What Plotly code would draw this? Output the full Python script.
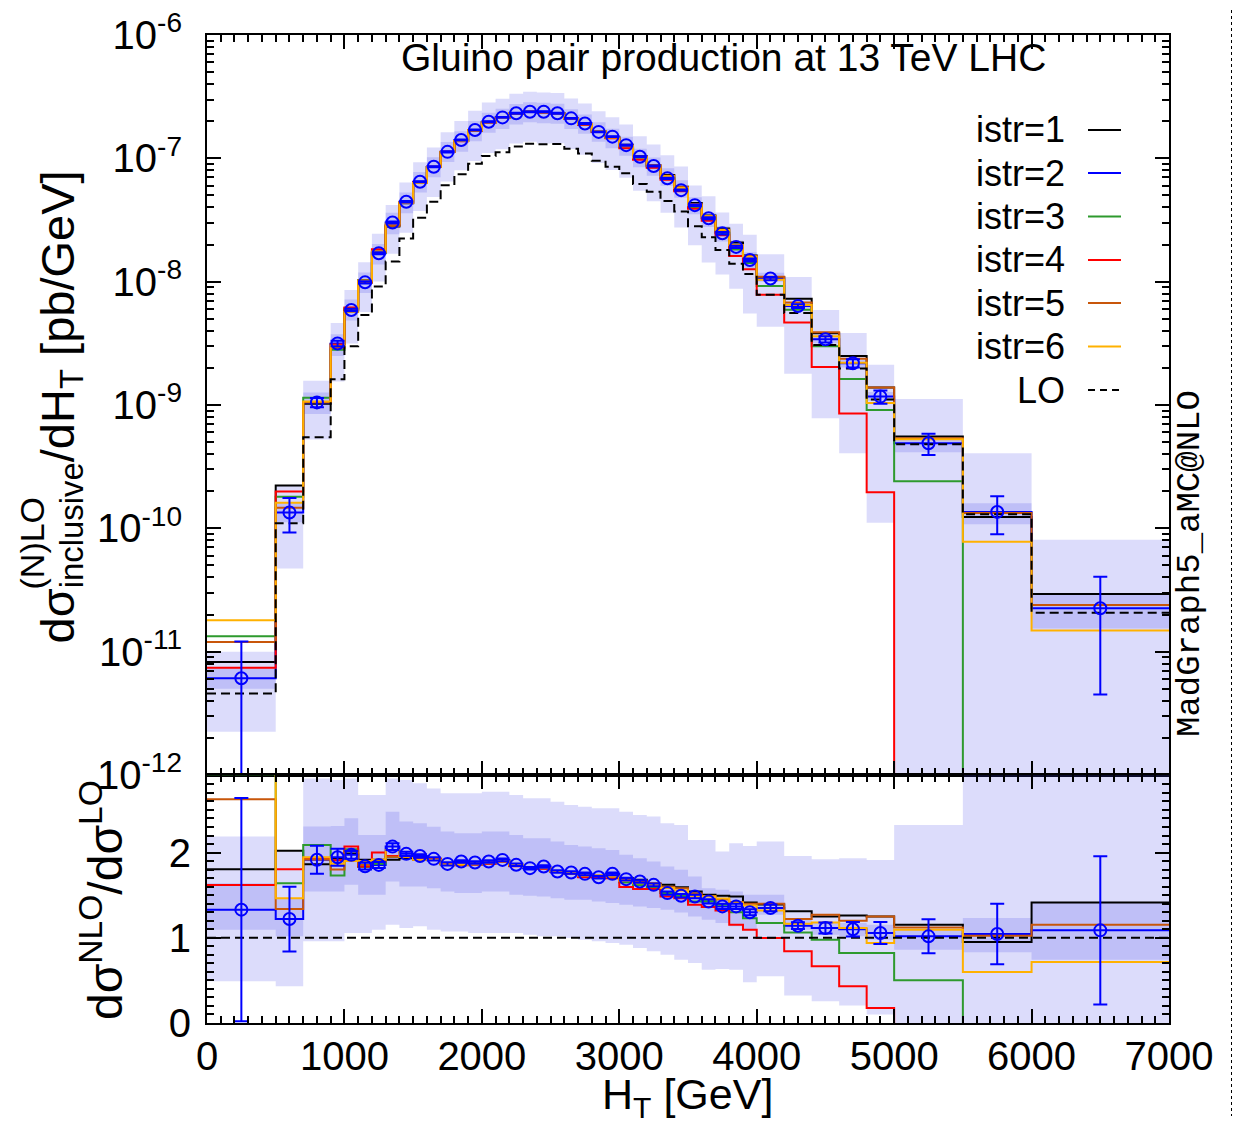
import plotly.graph_objects as go

# ---------------- data ----------------
bin_edges = [0, 500, 700, 900, 1000, 1100, 1200, 1300, 1400, 1500, 1600, 1700,
             1800, 1900, 2000, 2100, 2200, 2300, 2400, 2500, 2600, 2700, 2800,
             2900, 3000, 3100, 3200, 3300, 3400, 3500, 3600, 3700, 3800, 3900,
             4000, 4200, 4400, 4600, 4800, 5000, 5500, 6000, 7000]

# LO differential cross section [pb/GeV]
lo_xsec = [4.57e-12, 1.10e-10, 5.48e-10, 1.62e-9, 2.99e-9, 5.37e-9, 9.16e-9,
           1.46e-8, 2.24e-8, 3.30e-8, 4.44e-8, 6.05e-8, 7.44e-8, 9.03e-8,
           1.045e-7, 1.123e-7, 1.25e-7, 1.315e-7, 1.30e-7, 1.305e-7, 1.195e-7,
           1.097e-7, 9.58e-8, 8.57e-8, 7.58e-8, 6.20e-8, 5.35e-8, 4.52e-8,
           3.70e-8, 2.81e-8, 2.29e-8, 1.805e-8, 1.40e-8, 1.154e-8, 7.85e-9,
           5.56e-9, 3.06e-9, 1.98e-9, 1.108e-9, 4.81e-10, 1.30e-10, 2.07e-11]

# NLO / LO ratios for each istr setting
ratio_istr1 = [1.805, 2.02, 1.864, 1.93, 1.99, 1.915, 1.915, 1.915, 1.934, 1.92,
               1.92, 1.864, 1.856, 1.864, 1.875, 1.905, 1.844, 1.83, 1.817, 1.778,
               1.758, 1.727, 1.727, 1.719, 1.70, 1.68, 1.633, 1.621, 1.594, 1.543,
               1.505, 1.493, 1.485, 1.415, 1.39, 1.31, 1.25, 1.26, 1.25, 1.153,
               0.95, 1.415]
ratio_istr2 = [1.33, 1.22, 1.915, 1.945, 1.973, 1.84, 1.855, 2.07, 1.985, 1.96,
               1.926, 1.867, 1.895, 1.883, 1.895, 1.914, 1.856, 1.817, 1.836, 1.778,
               1.766, 1.75, 1.711, 1.75, 1.688, 1.66, 1.621, 1.524, 1.493, 1.485,
               1.426, 1.368, 1.368, 1.30, 1.35, 1.142, 1.114, 1.10, 1.056, 1.017,
               1.045, 1.087]
ratio_istr3 = [2.92, 1.64, 2.09, 1.73, 2.04, 1.83, 1.87, 1.95, 1.95, 1.915,
               1.92, 1.864, 1.856, 1.864, 1.875, 1.895, 1.844, 1.83, 1.817, 1.778,
               1.758, 1.727, 1.725, 1.715, 1.65, 1.62, 1.583, 1.524, 1.493, 1.426,
               1.43, 1.387, 1.30, 1.23, 1.173, 1.063, 0.977, 0.822, 0.822, 0.501,
               0.0, 0.0]
ratio_istr4 = [1.62, 1.805, 1.93, 1.91, 2.07, 1.835, 2.00, 1.96, 1.95, 1.93,
               1.93, 1.87, 1.85, 1.86, 1.87, 1.89, 1.84, 1.83, 1.81, 1.775,
               1.755, 1.71, 1.71, 1.70, 1.595, 1.571, 1.571, 1.485, 1.465, 1.387,
               1.36, 1.32, 1.153, 1.094, 0.997, 0.841, 0.665, 0.431, 0.177, 0.0,
               0.0, 0.0]
ratio_istr5 = [2.625, 1.337, 1.92, 1.80, 2.02, 1.855, 1.895, 1.95, 1.95, 1.915,
               1.92, 1.864, 1.856, 1.864, 1.875, 1.895, 1.844, 1.83, 1.817, 1.778,
               1.758, 1.727, 1.727, 1.719, 1.68, 1.66, 1.64, 1.60, 1.58, 1.52,
               1.49, 1.45, 1.42, 1.40, 1.40, 1.22, 1.27, 1.20, 1.25, 1.12,
               1.025, 1.153]
ratio_istr6 = [3.93, 1.465, 1.945, 1.87, 1.90, 1.90, 1.92, 2.03, 1.95, 1.915,
               1.915, 1.86, 1.86, 1.87, 1.88, 1.895, 1.856, 1.83, 1.82, 1.78,
               1.76, 1.73, 1.73, 1.72, 1.67, 1.64, 1.62, 1.583, 1.555, 1.485,
               1.485, 1.46, 1.41, 1.38, 1.32, 1.165, 1.18, 1.114, 0.938, 1.095,
               0.599, 0.716]

# statistical uncertainty of istr=2 (ratio units)
stat_err_istr2 = [1.31, 0.38, 0.165, 0.10, 0.045, 0.04, 0.035, 0.04, 0.025, 0.02,
                  0.02, 0.02, 0.015, 0.015, 0.015, 0.015, 0.015, 0.015, 0.015, 0.015,
                  0.015, 0.015, 0.015, 0.015, 0.015, 0.015, 0.015, 0.018, 0.02, 0.02,
                  0.025, 0.03, 0.03, 0.035, 0.04, 0.04, 0.065, 0.085, 0.13, 0.20,
                  0.355, 0.87]

# uncertainty bands (ratio to LO): wide band and narrow band
wide_band_lo = [0.49, 0.43, 0.958, 0.958, 1.056, 1.056, 1.095, 1.153, 1.114, 1.134,
                1.095, 1.075, 1.075, 1.056, 1.056, 1.056, 1.056, 1.036, 1.017, 1.017,
                0.997, 0.977, 0.958, 0.938, 0.919, 0.880, 0.841, 0.802, 0.743, 0.704,
                0.626, 0.634, 0.626, 0.478, 0.548, 0.322, 0.255, 0.205, 0.10, 0.0,
                0.0, 0.0]
wide_band_hi = [2.187, 2.031, 2.87, 2.851, 2.87, 2.675, 2.675, 2.87, 2.851, 2.812,
                2.753, 2.695, 2.695, 2.695, 2.714, 2.714, 2.675, 2.636, 2.636, 2.597,
                2.558, 2.539, 2.519, 2.519, 2.48, 2.441, 2.422, 2.343, 2.324, 2.148,
                2.148, 2.012, 2.109, 2.078, 2.129, 1.961, 1.922, 1.934, 1.914, 2.324,
                3.12, 3.9]
narrow_band_lo = [1.095, 1.017, 1.543, 1.543, 1.621, 1.504, 1.504, 1.66, 1.602, 1.602,
                  1.582, 1.543, 1.524, 1.524, 1.543, 1.543, 1.504, 1.493, 1.485, 1.465,
                  1.446, 1.446, 1.426, 1.407, 1.387, 1.368, 1.348, 1.329, 1.297, 1.251,
                  1.212, 1.173, 1.134, 1.095, 1.27, 1.095, 1.036, 1.017, 0.977, 0.86,
                  0.829, 0.743]
narrow_band_hi = [1.641, 1.465, 2.305, 2.312, 2.402, 2.207, 2.207, 2.48, 2.363, 2.344,
                  2.304, 2.246, 2.226, 2.226, 2.246, 2.246, 2.207, 2.168, 2.168, 2.129,
                  2.09, 2.07, 2.051, 2.031, 1.973, 1.934, 1.895, 1.836, 1.797, 1.719,
                  1.582, 1.563, 1.543, 1.504, 1.504, 1.231, 1.173, 1.173, 1.153, 1.095,
                  1.231, 1.407]

series_names = ["istr=1", "istr=2", "istr=3", "istr=4", "istr=5", "istr=6"]
series_ratios = [ratio_istr1, ratio_istr2, ratio_istr3, ratio_istr4, ratio_istr5, ratio_istr6]
series_colors = ["#000000", "#0000FF", "#2E9A2E", "#FF0000", "#C8560A", "#FFB100"]

ylog_tickvals = [1e-12, 1e-11, 1e-10, 1e-9, 1e-8, 1e-7, 1e-6]
ylog_ticktext = ["10<sup>-12</sup>", "10<sup>-11</sup>", "10<sup>-10</sup>", "10<sup>-9</sup>",
                 "10<sup>-8</sup>", "10<sup>-7</sup>", "10<sup>-6</sup>"]

# ---------------- helpers ----------------
FLOOR_ABS = 1e-14     # zero values drawn below the log range
FLOOR_RATIO = -0.2    # zero values drawn below the ratio range
FONT = "Liberation Sans, Arial, sans-serif"
BAND = "rgba(60,60,235,0.18)"

def to_abs(ratio):
    return [r * l if r > 0 else FLOOR_ABS for r, l in zip(ratio, lo_xsec)]

def to_ratio(ratio):
    return [r if r > 0 else FLOOR_RATIO for r in ratio]

def step(values):
    return list(bin_edges), list(values) + [values[-1]]

def rects(lo, hi):
    xs, ys = [], []
    for i in range(len(lo)):
        x0, x1 = bin_edges[i], bin_edges[i + 1]
        xs += [x0, x1, x1, x0, x0, None]
        ys += [lo[i], lo[i], hi[i], hi[i], lo[i], None]
    return xs, ys

centers = [(bin_edges[i] + bin_edges[i + 1]) / 2 for i in range(len(lo_xsec))]

fig = go.Figure()

panels = [("x", "y", True), ("x2", "y2", False)]
for xa, ya, absolute in panels:
    conv = to_abs if absolute else to_ratio
    for blo, bhi in [(wide_band_lo, wide_band_hi), (narrow_band_lo, narrow_band_hi)]:
        bx, by = rects(conv(blo), conv(bhi))
        fig.add_trace(go.Scatter(x=bx, y=by, xaxis=xa, yaxis=ya, mode="lines",
                                 fill="toself", fillcolor=BAND, line=dict(width=0),
                                 hoverinfo="skip", showlegend=False))
    for name, rat, col in zip(series_names, series_ratios, series_colors):
        sx, sy = step(conv(rat))
        fig.add_trace(go.Scatter(x=sx, y=sy, xaxis=xa, yaxis=ya, mode="lines",
                                 line=dict(color=col, width=2, shape="hv"),
                                 name=name, showlegend=False))
    lo_vals = lo_xsec if absolute else [l / l for l in lo_xsec]
    sx, sy = step(lo_vals)
    fig.add_trace(go.Scatter(x=sx, y=sy, xaxis=xa, yaxis=ya, mode="lines",
                             line=dict(color="black", width=2, shape="hv", dash="9px,5px"),
                             name="LO", showlegend=False))
    pts = conv(ratio_istr2)
    errs = [e * l for e, l in zip(stat_err_istr2, lo_xsec)] if absolute else list(stat_err_istr2)
    fig.add_trace(go.Scatter(x=centers, y=pts, xaxis=xa, yaxis=ya, mode="markers",
                             marker=dict(symbol="circle-open", size=12, color="#0000FF",
                                         line=dict(width=2, color="#0000FF")),
                             error_y=dict(type="data", array=errs, visible=True,
                                          color="#0000FF", thickness=2, width=7),
                             showlegend=False))

TICK_FONT = dict(family=FONT, size=40, color="black")
axis_common = dict(showline=True, linecolor="black", linewidth=2, mirror="ticks",
                   ticks="inside", tickcolor="black", tickwidth=2, ticklen=14,
                   showgrid=False, zeroline=False, tickfont=TICK_FONT,
                   ticklabeloverflow="allow", automargin=False)

PANEL_SPLIT = 0.251
# the page body adds an 8 px offset; the figure is sized so that the
# plot area lands at x 207..1169, y 35..1023 in the 1240x1125 window
fig.update_layout(
    width=1232, height=1117,
    margin=dict(l=199, r=71, t=27, b=102, autoexpand=False),
    paper_bgcolor="white", plot_bgcolor="white",
    showlegend=False,
    xaxis=dict(axis_common, domain=[0, 1], anchor="y", range=[0, 7000], dtick=1000, tick0=0,
               showticklabels=False,
               minor=dict(dtick=100, tick0=0, ticks="inside", ticklen=7, tickwidth=1.5,
                          tickcolor="black", showgrid=False)),
    xaxis2=dict(axis_common, domain=[0, 1], anchor="y2", range=[0, 7000], dtick=1000, tick0=0,
                matches="x", ticklabelstandoff=-3,
                minor=dict(dtick=100, tick0=0, ticks="inside", ticklen=7, tickwidth=1.5,
                           tickcolor="black", showgrid=False)),
    yaxis=dict(axis_common, domain=[PANEL_SPLIT, 1], anchor="x", type="log",
               range=[-12.0003, -5.9997],
               tickvals=ylog_tickvals, ticktext=ylog_ticktext, ticklabelstandoff=15,
               minor=dict(tickvals=[k * 10.0 ** e for e in range(-12, -6) for k in range(2, 10)],
                          ticks="inside", ticklen=7, tickwidth=1.5, tickcolor="black",
                          showgrid=False)),
    yaxis2=dict(axis_common, domain=[0, PANEL_SPLIT], anchor="x2", range=[0, 2.91],
                dtick=1, tick0=0, ticklabelstandoff=6,
                minor=dict(dtick=0.1, tick0=0, ticks="inside", ticklen=7, tickwidth=1.5,
                           tickcolor="black", showgrid=False)),
)

# pixel (window) -> paper helpers (plot area: x 207..1169, y 35..1023)
def px(xp):
    return (xp - 207) / 962.0

def py(yp):
    return (1023 - yp) / 988.0

ann = []
ann.append(dict(text="Gluino pair production at 13 TeV LHC", x=px(723), y=py(57),
                xref="paper", yref="paper", xanchor="center", yanchor="middle",
                showarrow=False, font=dict(family=FONT, size=39, color="black")))

# legend (text right-aligned, sample line on the right)
leg_names = series_names + ["LO"]
leg_colors = series_colors + ["black"]
leg_rows = [130, 173, 216.5, 260, 303, 346.5, 390]
shapes = []
for name, col, yy in zip(leg_names, leg_colors, leg_rows):
    ann.append(dict(text=name, x=px(1067), y=py(yy), xref="paper", yref="paper",
                    xanchor="right", yanchor="middle", showarrow=False,
                    font=dict(family=FONT, size=36, color="black")))
    shapes.append(dict(type="line", xref="paper", yref="paper", x0=px(1088), x1=px(1121),
                       y0=py(yy), y1=py(yy),
                       line=dict(color=col, width=2, dash="7px,5px" if name == "LO" else "solid")))

ann.append(dict(text="MadGraph5_aMC@NLO", x=px(1190), y=py(564), xref="paper", yref="paper",
                xanchor="center", yanchor="middle", textangle=-90, showarrow=False,
                font=dict(family="Liberation Mono, DejaVu Sans Mono, monospace", size=34,
                          color="black")))

# y title of upper panel (superscript stacked above subscript)
ann.append(dict(text="dσ<sub>inclusive</sub>/dH<sub>T</sub> [pb/GeV]", x=px(60), y=py(646),
                xref="paper", yref="paper", xanchor="center", yanchor="bottom",
                textangle=-90, showarrow=False, font=dict(family=FONT, size=47, color="black")))
ann.append(dict(text="(N)LO", x=px(31), y=py(592), xref="paper", yref="paper",
                xanchor="center", yanchor="bottom", textangle=-90, showarrow=False,
                font=dict(family=FONT, size=34, color="black")))

ann.append(dict(text="dσ<sup>NLO</sup>/dσ<sup>LO</sup>", x=px(102), y=py(900),
                xref="paper", yref="paper", xanchor="center", yanchor="middle",
                textangle=-90, showarrow=False, font=dict(family=FONT, size=48, color="black")))

ann.append(dict(text="H<sub>T</sub> [GeV]", x=px(687), y=py(1097), xref="paper", yref="paper",
                xanchor="center", yanchor="middle", showarrow=False,
                font=dict(family=FONT, size=43, color="black")))

shapes.append(dict(type="line", xref="paper", yref="paper", x0=px(1232), x1=px(1232),
                   y0=py(10), y1=py(1116), line=dict(color="black", width=2, dash="dot")))

fig.update_layout(annotations=ann, shapes=shapes)

fig.write_html("out.html")
